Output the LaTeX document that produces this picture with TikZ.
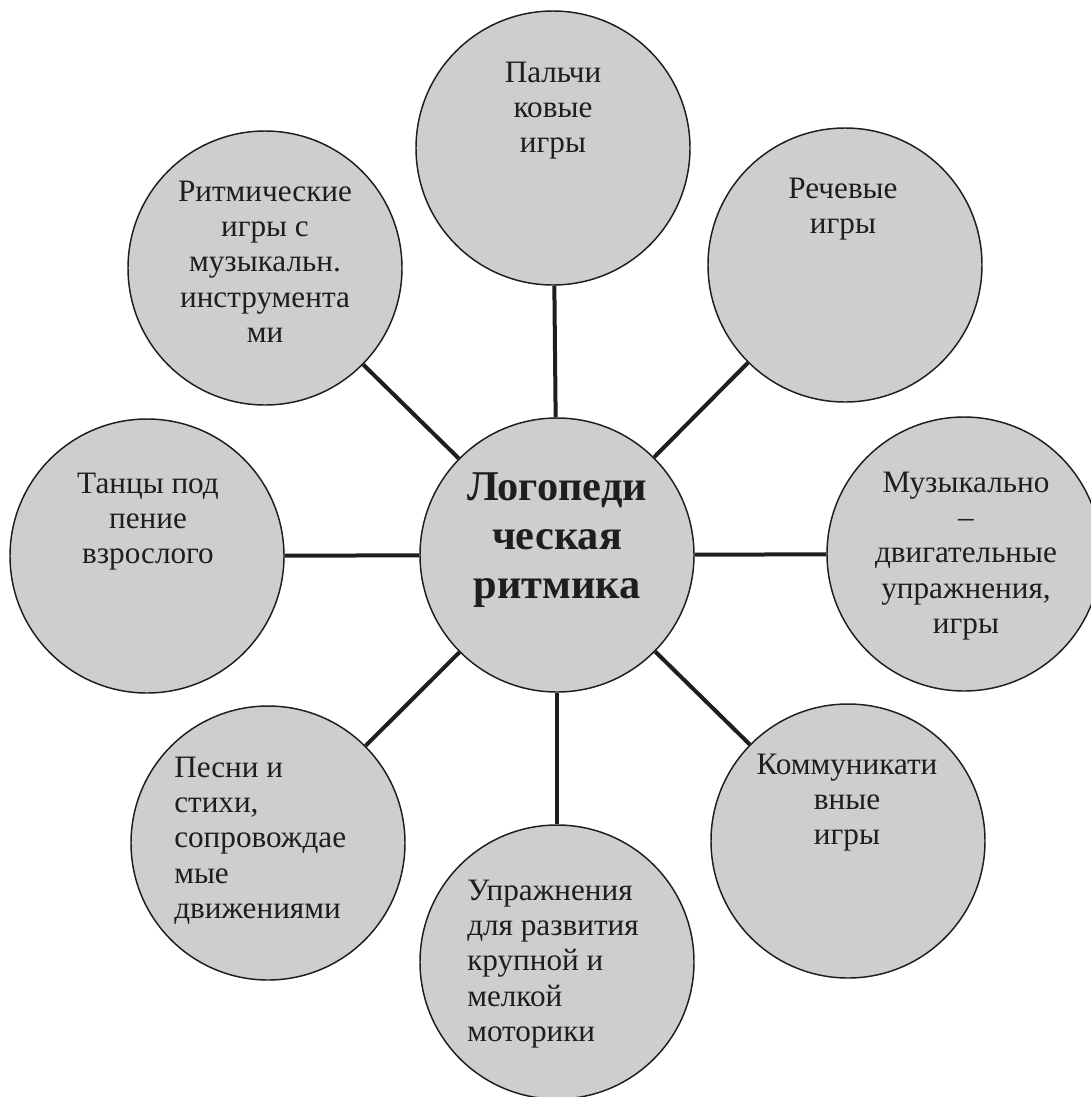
\documentclass[tikz,border=0pt]{standalone}
\usepackage{fontspec}
\setmainfont{Liberation Serif}
\definecolor{circfill}{RGB}{206,206,206}
\definecolor{ink}{RGB}{30,30,30}
\begin{document}
\begin{tikzpicture}[x=0.75pt,y=-0.75pt,
  bubble/.style={circle, draw=ink, line width=1.1pt, fill=circfill, minimum size=205.5pt, inner sep=0pt},
  link/.style={draw=ink, line width=3pt},
  lbl/.style={inner sep=0pt, text=ink, font=\fontsize{23.4}{26.6}\selectfont},
  ttl/.style={inner sep=0pt, text=ink, font=\bfseries\fontsize{31.8}{36.75}\selectfont}]
\fill[white] (0,0) rectangle (1090,1097);
\useasboundingbox (0,0) rectangle (1090,1097);
% circles
\node[bubble] (C)  at (557,555) {};
\node[bubble] (N)  at (553,148) {};
\node[bubble] (NE) at (845,265) {};
\node[bubble] (E)  at (964,554) {};
\node[bubble] (SE) at (848,841) {};
\node[bubble] (S)  at (557,962) {};
\node[bubble] (SW) at (268,843) {};
\node[bubble] (W)  at (147,556) {};
\node[bubble] (NW) at (265,268) {};
% connectors
\draw[link] (C) -- (N);
\draw[link] (C) -- (NE);
\draw[link] (C) -- (E);
\draw[link] (C) -- (SE);
\draw[link] (C) -- (S);
\draw[link] (C) -- (SW);
\draw[link] (C) -- (W);
\draw[link] (C) -- (NW);
% texts
\node[ttl, anchor=base] (tC) at (557,500) {\begin{tabular}[t]{@{}c@{}}Логопеди\\ческая\\ритмика\end{tabular}};
\node[lbl, anchor=base] (tN) at (553,82) {\begin{tabular}[t]{@{}c@{}}Пальчи\\ковые\\игры\end{tabular}};
\node[lbl, anchor=base] (tNE) at (843,198) {\begin{tabular}[t]{@{}c@{}}Речевые\\игры\end{tabular}};
\node[lbl, anchor=base] (tNW) at (265,201) {\begin{tabular}[t]{@{}c@{}}Ритмические\\игры с\\музыкальн.\\инструмента\\ми\end{tabular}};
\node[lbl, anchor=base] (tW) at (148,493) {\begin{tabular}[t]{@{}c@{}}Танцы под\\пение\\взрослого\end{tabular}};
\node[lbl, anchor=base] (tE) at (966,492) {\begin{tabular}[t]{@{}c@{}}Музыкально\\–\\двигательные\\упражнения,\\игры\end{tabular}};
\node[lbl, anchor=base] (tSE) at (847,774) {\begin{tabular}[t]{@{}c@{}}Коммуникати\\вные\\игры\end{tabular}};
\node[lbl, anchor=base west] (tS) at (467,900) {\begin{tabular}[t]{@{}l@{}}Упражнения\\для развития\\крупной и\\мелкой\\моторики\end{tabular}};
\node[lbl, anchor=base west] (tSW) at (174,777) {\begin{tabular}[t]{@{}l@{}}Песни и\\стихи,\\сопровождае\\мые\\движениями\end{tabular}};
\end{tikzpicture}
\end{document}
